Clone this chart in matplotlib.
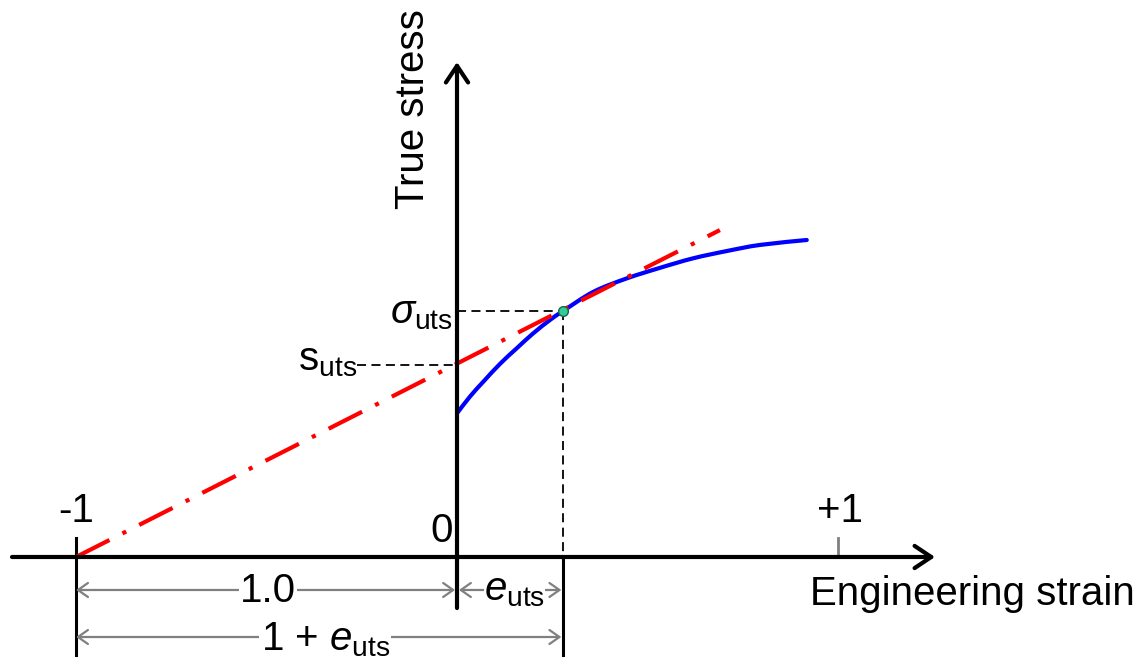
import numpy as np
import matplotlib
matplotlib.use('Agg')
import matplotlib.pyplot as plt
from matplotlib.path import Path
from matplotlib.patches import PathPatch

plt.rcParams['font.family'] = ['Liberation Sans', 'DejaVu Sans']
plt.rcParams['mathtext.fontset'] = 'custom'
plt.rcParams['mathtext.rm'] = 'Liberation Sans'
plt.rcParams['mathtext.it'] = 'Liberation Sans:italic'
plt.rcParams['mathtext.sf'] = 'Liberation Sans'

# donnees
curve_x = [0.0, 0.034, 0.069, 0.113, 0.157, 0.200, 0.244, 0.279, 0.358, 0.445,
           0.533, 0.620, 0.708, 0.795, 0.918]
curve_y = [0.377, 0.421, 0.460, 0.507, 0.548, 0.587, 0.622, 0.646, 0.696, 0.731,
           0.759, 0.784, 0.803, 0.819, 0.832]
tangent_x = [-1.0, 0.69]
tangent_y = [0.0, 0.858]
e_uts = 0.279
sigma_uts = 0.646
s_uts = 0.505
tick_vals = [-1, 0, 1]
tick_labels = ['-1', '0', '+1']

fs = 29
dim_col = '#808080'

fig = plt.figure(figsize=(11.45, 6.62), dpi=100)
ax = fig.add_axes([0, 0, 1, 1])
ax.set_xlim(-1.1995, 1.8058)
ax.set_ylim(-0.2756, 1.4619)
ax.axis('off')

# axes avec fleches
ax.annotate('', xy=(1.2546, 0), xytext=(-1.168, 0),
            arrowprops=dict(arrowstyle='->,head_length=0.6,head_width=0.4',
                            lw=3, color='black', shrinkA=0, shrinkB=0,
                            mutation_scale=20))
ax.annotate('', xy=(0, 1.299), xytext=(0, -0.134),
            arrowprops=dict(arrowstyle='->,head_length=0.6,head_width=0.4',
                            lw=3, color='black', shrinkA=0, shrinkB=0,
                            mutation_scale=20))

# lignes de rappel
ax.plot([tick_vals[0], tick_vals[0]], [0.05, -0.257], color='black', lw=2.2)
ax.plot([e_uts, e_uts], [0, -0.257], color='black', lw=2.2)
ax.plot([tick_vals[2], tick_vals[2]], [0, 0.05], color=dim_col, lw=2)

# pointilles
ax.plot([0, e_uts], [sigma_uts, sigma_uts], color='black', lw=1.3, linestyle=(0, (5, 3)))
ax.plot([e_uts, e_uts], [sigma_uts, 0], color='black', lw=1.3, linestyle=(0, (5, 3)))
ax.plot([-0.262, 0], [s_uts, s_uts], color='black', lw=1.3, linestyle=(0, (5, 3)))

# tangente
ax.plot(tangent_x, tangent_y, color='#ff0000', lw=3, linestyle=(0, (9, 3.5, 1, 3.5)))

# courbe lissee (segments de Bezier passant par les points lus)
pts = np.column_stack([curve_x, curve_y])
verts = [pts[0]]
codes = [Path.MOVETO]
for i in range(len(pts) - 1):
    p0 = pts[max(i - 1, 0)]
    p1 = pts[i]
    p2 = pts[i + 1]
    p3 = pts[min(i + 2, len(pts) - 1)]
    c1 = p1 + (p2 - p0) / 6.0
    c2 = p2 - (p3 - p1) / 6.0
    verts += [c1, c2, p2]
    codes += [Path.CURVE4] * 3
ax.add_patch(PathPatch(Path(verts, codes), facecolor='none', edgecolor='#0000ff',
                       lw=3, capstyle='round'))
ax.plot([e_uts], [sigma_uts], 'o', ms=7, mfc='#33cc99', mec='#1a6644', mew=1, zorder=5)

# cotes
def cote(x0, x1, y):
    ax.annotate('', xy=(x1, y), xytext=(x0, y),
                arrowprops=dict(arrowstyle='<->,head_length=0.4,head_width=0.28',
                                lw=1.6, color=dim_col, shrinkA=0, shrinkB=0,
                                mutation_scale=18))

row1 = -0.0866
row2 = -0.21
cote(-1.0, -0.005, row1)
cote(0.005, e_uts - 0.005, row1)
cote(-1.0, e_uts - 0.005, row2)

box = dict(facecolor='white', edgecolor='none', pad=1)
ax.text(-0.496, -0.118, '1.0', fontsize=fs, ha='center', va='baseline', bbox=box)
ax.text(0.152, -0.113, r'$e_{\rm uts}$', fontsize=fs, ha='center', va='baseline',
        bbox=dict(facecolor='white', edgecolor='none', pad=0))
ax.text(-0.346, -0.244, r'1 + $e_{\rm uts}$', fontsize=fs, ha='center', va='baseline',
        bbox=box)

# graduations
ax.text(tick_vals[0], 0.092, tick_labels[0], fontsize=fs, ha='center', va='baseline')
ax.text(-0.0105, 0.039, tick_labels[1], fontsize=fs, ha='right', va='baseline')
ax.text(tick_vals[2] + 0.005, 0.092, tick_labels[2], fontsize=fs, ha='center', va='baseline')

# etiquettes
ax.text(-0.0105, 0.614, r'$\sigma_{\rm uts}$', fontsize=fs, ha='right', va='baseline')
ax.text(-0.262, 0.491, r'$\mathrm{s}_{\rm uts}$', fontsize=fs, ha='right', va='baseline')
ax.text(0.927, -0.126, 'Engineering strain', fontsize=fs, ha='left', va='baseline')
ax.text(-0.066, 1.176, 'True stress', fontsize=fs, rotation=90, ha='right', va='center')

fig.savefig('out.png', dpi=100)
